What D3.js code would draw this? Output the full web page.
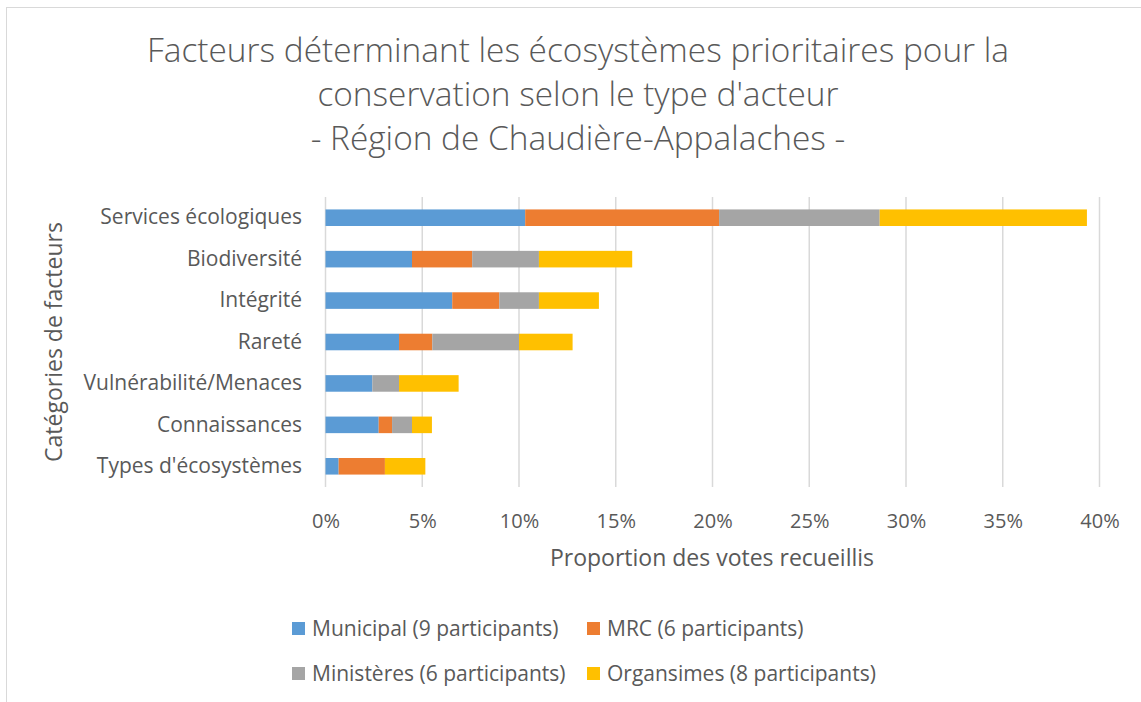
<!DOCTYPE html>
<html>
<head>
<meta charset="utf-8">
<script src="https://cdn.jsdelivr.net/npm/d3@7"></script>
<style>
  body { margin: 0; background: #fff; }
  text { font-family: "Open Sans", "Noto Sans", sans-serif; fill: #595959; }
</style>
</head>
<body>
<svg width="1141" height="702"></svg>
<script>
var categories = ["Services écologiques", "Biodiversité", "Intégrité", "Rareté",
                  "Vulnérabilité/Menaces", "Connaissances", "Types d'écosystèmes"];
var seriesNames = ["Municipal (9 participants)", "MRC (6 participants)",
                   "Ministères (6 participants)", "Organsimes (8 participants)"];
var municipal  = [10.32, 4.47, 6.55, 3.80, 2.42, 2.75, 0.68];
var mrc        = [10.02, 3.11, 2.43, 1.72, 0.00, 0.69, 2.39];
var ministeres = [8.30, 3.45, 2.05, 4.48, 1.38, 1.03, 0.00];
var organismes = [10.71, 4.82, 3.10, 2.77, 3.08, 1.03, 2.09];
var xTicks = [0, 5, 10, 15, 20, 25, 30, 35, 40];
var colors = ["#5b9bd5", "#ed7d31", "#a5a5a5", "#ffc000"];
var titleLines = ["Facteurs déterminant les écosystèmes prioritaires pour la",
                  "conservation selon le type d'acteur",
                  "- Région de Chaudière-Appalaches -"];

var svg = d3.select("svg");

// chart frame
svg.append("rect")
    .attr("x", 6.5).attr("y", 7.5)
    .attr("width", 1200).attr("height", 800)
    .attr("fill", "none").attr("stroke", "#d9d9d9");

// build table
var rows = categories.map(function(c, i) {
    return { cat: c, s0: municipal[i], s1: mrc[i], s2: ministeres[i], s3: organismes[i] };
});
var stack = d3.stack().keys(["s0", "s1", "s2", "s3"])(rows);

var x = d3.scaleLinear().domain([0, 40]).range([325.5, 1099.5]);
var y = d3.scaleBand().domain(categories).range([197, 487]).paddingInner(0.6).paddingOuter(0.3);

// title
svg.append("g").selectAll("text")
    .data(titleLines).enter().append("text")
    .attr("x", 578)
    .attr("y", function(d, i) { return 62 + i * 44; })
    .attr("text-anchor", "middle")
    .attr("font-size", "33.4px")
    .attr("font-weight", 300)
    .text(function(d) { return d; });

// gridlines
svg.append("g").selectAll("line")
    .data(xTicks).enter().append("line")
    .attr("x1", function(d) { return x(d); })
    .attr("x2", function(d) { return x(d); })
    .attr("y1", 197).attr("y2", 487)
    .attr("stroke", "#d9d9d9").attr("stroke-width", 1.5);

// bars
svg.append("g").selectAll("g")
    .data(stack).enter().append("g")
    .attr("fill", function(d, i) { return colors[i]; })
    .selectAll("rect")
    .data(function(d) { return d; }).enter().append("rect")
    .attr("x", function(d) { return x(d[0]); })
    .attr("width", function(d) { return x(d[1]) - x(d[0]); })
    .attr("y", function(d) { return y(d.data.cat); })
    .attr("height", y.bandwidth());

// x axis labels
var xAxis = svg.append("g")
    .attr("transform", "translate(0,511)")
    .call(d3.axisBottom(x).tickValues(xTicks).tickSize(0).tickFormat(function(d) { return d + "%"; }));
xAxis.select(".domain").remove();
xAxis.selectAll("text").attr("font-size", "20px").attr("font-family", null).attr("fill", "#595959");

// y axis labels
var yAxis = svg.append("g")
    .attr("transform", "translate(302,0)")
    .call(d3.axisLeft(y).tickSize(0).tickPadding(0));
yAxis.select(".domain").remove();
yAxis.selectAll("text").attr("font-size", "21px").attr("font-family", null).attr("fill", "#595959");

// axis titles
svg.append("text")
    .attr("x", 712).attr("y", 566)
    .attr("text-anchor", "middle")
    .attr("font-size", "23px")
    .text("Proportion des votes recueillis");

svg.append("text")
    .attr("transform", "translate(62,342) rotate(-90)")
    .attr("text-anchor", "middle")
    .attr("font-size", "23px")
    .text("Catégories de facteurs");

// legend
var legendPos = [[292, 629], [587, 629], [292, 674], [587, 674]];
var legend = svg.append("g").selectAll("g")
    .data(seriesNames).enter().append("g")
    .attr("transform", function(d, i) { return "translate(" + legendPos[i][0] + "," + legendPos[i][1] + ")"; });
legend.append("rect")
    .attr("x", 0).attr("y", -7).attr("width", 13).attr("height", 13)
    .attr("fill", function(d, i) { return colors[i]; });
legend.append("text")
    .attr("x", 20).attr("y", 7)
    .attr("font-size", "21px")
    .text(function(d) { return d; });
</script>
</body>
</html>
